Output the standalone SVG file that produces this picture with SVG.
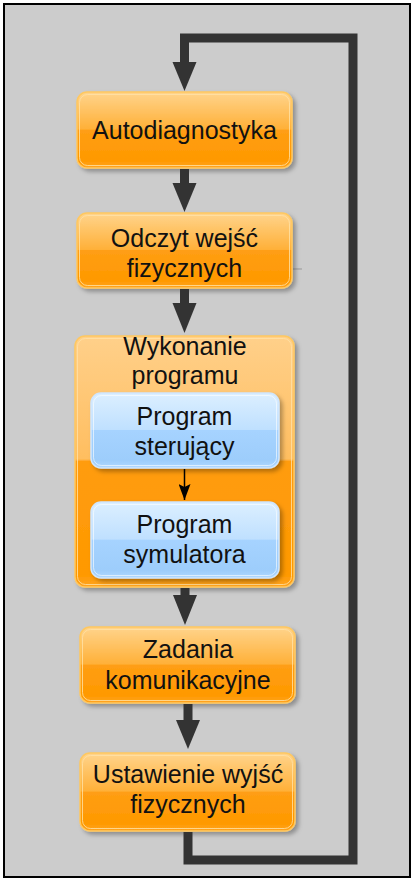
<svg xmlns="http://www.w3.org/2000/svg" width="416" height="887" viewBox="0 0 416 887">
<defs>
<linearGradient id="gOr" x1="0" y1="0" x2="0" y2="1">
<stop offset="0" stop-color="#ffd48c"/>
<stop offset="0.49" stop-color="#ffb038"/>
<stop offset="0.5" stop-color="#ff9e14"/>
<stop offset="0.9" stop-color="#ff9900"/>
<stop offset="1" stop-color="#ffa420"/>
</linearGradient>
<linearGradient id="gCt" x1="0" y1="0" x2="0" y2="1">
<stop offset="0" stop-color="#ffd08a"/>
<stop offset="0.49" stop-color="#ffbe60"/>
<stop offset="0.5" stop-color="#ff9c10"/>
<stop offset="0.95" stop-color="#ff9900"/>
<stop offset="1" stop-color="#ffa420"/>
</linearGradient>
<linearGradient id="gBl" x1="0" y1="0" x2="0" y2="1">
<stop offset="0" stop-color="#dcefff"/>
<stop offset="0.49" stop-color="#bfe0ff"/>
<stop offset="0.5" stop-color="#a6d3ff"/>
<stop offset="0.9" stop-color="#9dcdfb"/>
<stop offset="1" stop-color="#b0d8ff"/>
</linearGradient>
<filter id="sh" x="-10%" y="-10%" width="125%" height="130%">
<feDropShadow dx="3" dy="3" stdDeviation="2" flood-color="#000" flood-opacity="0.3"/>
</filter>
<marker id="mk" viewBox="0 0 16 12" refX="16" refY="6" markerWidth="16" markerHeight="12" orient="auto" markerUnits="userSpaceOnUse">
<path d="M0,0 L16,6 L0,12 L3,6 Z" fill="#000"/>
</marker>
</defs>
<style>
.or{fill:url(#gOr);stroke:#ffc860;stroke-width:1.5;filter:url(#sh)}
.ct{fill:url(#gCt);stroke:#ffc860;stroke-width:1.5;filter:url(#sh)}
.bl{fill:url(#gBl);stroke:#cfe6ff;stroke-width:1.5;filter:url(#sh)}
.in{fill:none;stroke:#ffe2a8;stroke-width:1;opacity:0.8}
.inb{fill:none;stroke:#ffffff;stroke-width:1;opacity:0.6}
text{font-family:"Liberation Sans",Arial,sans-serif;font-size:25px;fill:#111;text-anchor:middle}
.flow{fill:none;stroke:#333;stroke-width:9}
.head{fill:#333}
</style>
<rect x="4" y="4" width="406" height="873" fill="#cccccc" stroke="#000" stroke-width="2"/>
<line x1="293" y1="269" x2="302" y2="269" stroke="#999" stroke-width="1"/>
<g id="autodiagnostyka">
<rect class="or" x="77" y="92" width="215" height="76" rx="10"/>
<rect class="in" x="79.5" y="94.5" width="210" height="71" rx="8"/>
<text x="184.5" y="139">Autodiagnostyka</text>
</g>
<g id="odczyt">
<rect class="or" x="77" y="213" width="215" height="75" rx="10"/>
<rect class="in" x="79.5" y="215.5" width="210" height="70" rx="8"/>
<text x="184.5" y="247">Odczyt wejść</text>
<text x="184.5" y="277">fizycznych</text>
</g>
<g id="wykonanie">
<rect class="ct" x="75" y="336" width="219" height="251" rx="10"/>
<rect class="in" x="77.5" y="338.5" width="214" height="246" rx="8"/>
<text x="185" y="355">Wykonanie</text>
<text x="185" y="384">programu</text>
</g>
<g id="sterujacy">
<rect class="bl" x="91" y="393" width="188" height="75" rx="10"/>
<rect class="inb" x="93.5" y="395.5" width="183" height="70" rx="8"/>
<text x="184.5" y="425">Program</text>
<text x="184.5" y="455">sterujący</text>
</g>
<g id="symulatora">
<rect class="bl" x="91" y="502" width="188" height="76" rx="10"/>
<rect class="inb" x="93.5" y="504.5" width="183" height="71" rx="8"/>
<text x="184.5" y="533">Program</text>
<text x="184.5" y="563">symulatora</text>
</g>
<g id="zadania">
<rect class="or" x="80" y="627" width="215" height="76" rx="10"/>
<rect class="in" x="82.5" y="629.5" width="210" height="71" rx="8"/>
<text x="188" y="658">Zadania</text>
<text x="188" y="689">komunikacyjne</text>
</g>
<g id="ustawienie">
<rect class="or" x="80" y="753" width="215" height="78" rx="10"/>
<rect class="in" x="82.5" y="755.5" width="210" height="73" rx="8"/>
<text x="188" y="783">Ustawienie wyjść</text>
<text x="188" y="813">fizycznych</text>
</g>
<g id="connectors">
<path class="flow" d="M188,832 V860 H353 V38 H184.5 V64"/>
<polygon class="head" points="172.5,62 196.5,62 184.5,91"/>
<line class="flow" x1="184.5" y1="169" x2="184.5" y2="185"/>
<polygon class="head" points="172.5,183 196.5,183 184.5,212"/>
<line class="flow" x1="184.5" y1="289" x2="184.5" y2="305"/>
<polygon class="head" points="172.5,303 196.5,303 184.5,333"/>
<line class="flow" x1="185" y1="588" x2="185" y2="597"/>
<polygon class="head" points="173,595 197,595 185,625"/>
<line class="flow" x1="188" y1="704" x2="188" y2="722"/>
<polygon class="head" points="176,720 200,720 188,749"/>
<line x1="184.5" y1="469" x2="184.5" y2="500" stroke="#000" stroke-width="1.5" marker-end="url(#mk)"/>
</g>
</svg>
